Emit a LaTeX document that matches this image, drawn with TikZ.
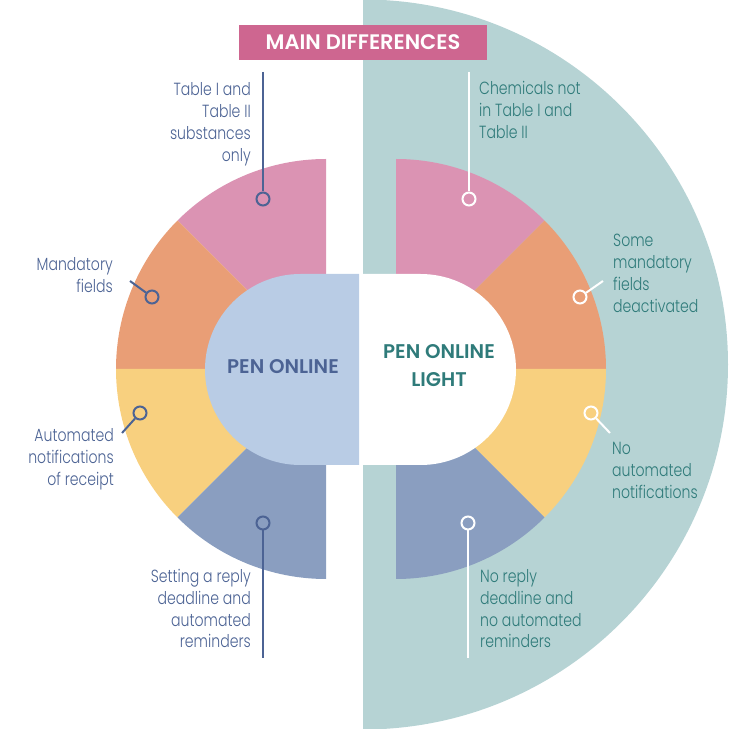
\documentclass[tikz,border=0pt]{standalone}
\usepackage{fontspec}
\setmainfont{Poppins Light}[FakeStretch=0.8]
\newfontfamily\hdfont{Poppins SemiBold}
\definecolor{tealbg}{HTML}{B6D3D4}
\definecolor{segpink}{HTML}{DB93B3}
\definecolor{segorange}{HTML}{E99E76}
\definecolor{segyellow}{HTML}{F8D07F}
\definecolor{segblue}{HTML}{8A9EC0}
\definecolor{pillblue}{HTML}{B9CCE5}
\definecolor{titlepink}{HTML}{CE6690}
\definecolor{dkblue}{HTML}{4C6394}
\definecolor{tealtxt}{HTML}{2F7B7A}
\begin{document}
\begin{tikzpicture}[x=1pt,y=1pt,
  lab/.style={font=\fontsize{17.6}{22}\selectfont, inner sep=0pt},
  labL/.style={lab, align=right, anchor=base east, text=dkblue},
  labR/.style={lab, align=left, anchor=base west, text=tealtxt},
  dotL/.style={circle, draw=dkblue, line width=2pt, minimum size=13pt, inner sep=0pt},
  dotR/.style={circle, draw=white, line width=2pt, minimum size=13pt, inner sep=0pt},
  connL/.style={draw=dkblue, line width=2pt},
  connR/.style={draw=white, line width=2pt},
  pilltext/.style={font=\hdfont\fontsize{19.8}{28}\selectfont, align=center, inner sep=0pt}]
\useasboundingbox (0,0) rectangle (729,729);
% teal half disc
\fill[tealbg] (363,-0.5) arc[start angle=-90, end angle=90, radius=365] -- cycle;
% left ring sectors
\fill[segpink]   (326,360) -- ++(90:210)  arc[start angle=90,  end angle=135, radius=210] -- cycle;
\fill[segorange] (326,360) -- ++(135:210) arc[start angle=135, end angle=180, radius=210] -- cycle;
\fill[segyellow] (326,360) -- ++(180:210) arc[start angle=180, end angle=225, radius=210] -- cycle;
\fill[segblue]   (326,360) -- ++(225:210) arc[start angle=225, end angle=270, radius=210] -- cycle;
% right ring sectors
\fill[segpink]   (396,360) -- ++(90:210)  arc[start angle=90,  end angle=45,  radius=210] -- cycle;
\fill[segorange] (396,360) -- ++(45:210)  arc[start angle=45,  end angle=0,   radius=210] -- cycle;
\fill[segyellow] (396,360) -- ++(0:210)   arc[start angle=0,   end angle=-45, radius=210] -- cycle;
\fill[segblue]   (396,360) -- ++(-45:210) arc[start angle=-45, end angle=-90, radius=210] -- cycle;
% pills
\fill[pillblue] (359,264) -- (300.5,264) arc[start angle=270, end angle=90, radius=95.5] -- (359,455) -- cycle;
\fill[white] (362,264) -- (420.5,264) arc[start angle=-90, end angle=90, radius=95.5] -- (362,455) -- cycle;
\node[pilltext, text=dkblue] (pen) at (283,362) {PEN ONLINE};
\node[pilltext, text=tealtxt] (penl) at (439,363) {PEN ONLINE\\LIGHT};
% title
\node[fill=titlepink, text=white, minimum width=248pt, minimum height=35pt, inner sep=0pt,
      font=\hdfont\fontsize{21}{24}\selectfont] (title) at (363,686.5) {MAIN DIFFERENCES};
% left connectors and labels
\coordinate (tl1) at (263,657);
\node[dotL] (cl1) at (263,530) {};
\draw[connL] (tl1) -- (cl1);
\node[labL] (ll1) at (251,567) {Table I and\\Table II\\substances\\only};
\node[dotL] (cl2) at (152,432) {};
\coordinate (tl2) at (130,448);
\draw[connL] (cl2) -- (tl2);
\node[labL] (ll2) at (113,436) {Mandatory\\fields};
\node[dotL] (cl3) at (140,316) {};
\coordinate (tl3) at (122,296);
\draw[connL] (cl3) -- (tl3);
\node[labL] (ll3) at (114,243) {Automated\\notifications\\of receipt};
\node[dotL] (cl4) at (263,206) {};
\coordinate (tl4) at (263,71);
\draw[connL] (cl4) -- (tl4);
\node[labL] (ll4) at (251,81) {Setting a reply\\deadline and\\automated\\reminders};
% right connectors and labels
\coordinate (tr1) at (469,657);
\node[dotR] (cr1) at (469,530) {};
\draw[connR] (tr1) -- (cr1);
\node[labR] (lr1) at (479,590) {Chemicals not\\in Table I and\\Table II};
\node[dotR] (cr2) at (580,432) {};
\coordinate (tr2) at (603,448);
\draw[connR] (cr2) -- (tr2);
\node[labR] (lr2) at (613,416) {Some\\mandatory\\fields\\deactivated};
\node[dotR] (cr3) at (591,316) {};
\coordinate (tr3) at (610,296);
\draw[connR] (cr3) -- (tr3);
\node[labR] (lr3) at (612,230) {No\\automated\\notifications};
\node[dotR] (cr4) at (468,206) {};
\coordinate (tr4) at (468,71);
\draw[connR] (cr4) -- (tr4);
\node[labR] (lr4) at (480,81) {No reply\\deadline and\\no automated\\reminders};
\end{tikzpicture}
\end{document}
